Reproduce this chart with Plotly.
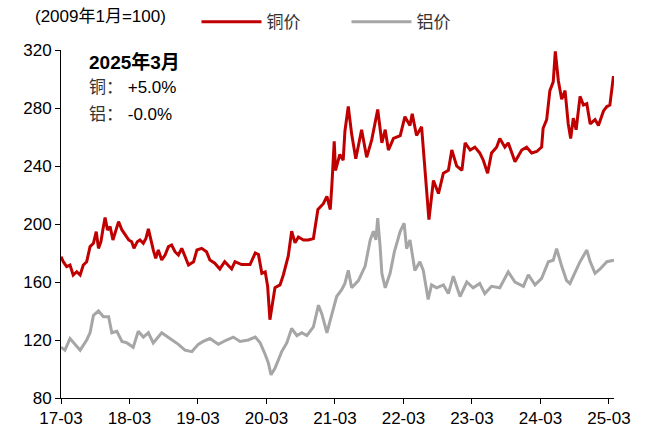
import plotly.graph_objects as go

# Copper price index (2009-01 = 100)
cu_dates = [
    "2017-03-01", "2017-03-13", "2017-03-31", "2017-04-18", "2017-05-05", "2017-05-24",
    "2017-06-11", "2017-06-28", "2017-07-16", "2017-08-03", "2017-08-21", "2017-09-05",
    "2017-09-17", "2017-09-30", "2017-10-10", "2017-10-22", "2017-11-04", "2017-11-18",
    "2017-12-03", "2017-12-15", "2018-01-02", "2018-01-20", "2018-02-07", "2018-02-25",
    "2018-03-13", "2018-03-25", "2018-04-12", "2018-04-26", "2018-05-14", "2018-05-28",
    "2018-06-10", "2018-06-22", "2018-07-06", "2018-07-19", "2018-08-02", "2018-08-20",
    "2018-09-07", "2018-09-25", "2018-10-12", "2018-10-30", "2018-11-17", "2018-12-05",
    "2018-12-22", "2019-01-10", "2019-02-06", "2019-02-24", "2019-03-21", "2019-04-16",
    "2019-05-04", "2019-05-30", "2019-06-26", "2019-07-22", "2019-08-28",
    "2019-09-15", "2019-10-20", "2019-12-04", "2020-01-01", "2020-01-18", "2020-02-05",
    "2020-02-23", "2020-03-07", "2020-03-19", "2020-04-15", "2020-05-12", "2020-05-30",
    "2020-06-25", "2020-07-13", "2020-07-31", "2020-08-18", "2020-09-14", "2020-10-10",
    "2020-11-06", "2020-11-30", "2020-12-29", "2021-01-17", "2021-02-04", "2021-02-13",
    "2021-02-25", "2021-03-04", "2021-03-27", "2021-04-14", "2021-04-23", "2021-05-11",
    "2021-05-29", "2021-06-20", "2021-07-21", "2021-08-17", "2021-09-13", "2021-10-15",
    "2021-11-06", "2021-11-24", "2021-12-11", "2022-01-07", "2022-02-12", "2022-03-09",
    "2022-04-05", "2022-04-17", "2022-05-10", "2022-06-06", "2022-06-24", "2022-07-15",
    "2022-08-08", "2022-09-04", "2022-09-30", "2022-10-27", "2022-11-14", "2022-12-10",
    "2023-01-07", "2023-01-24", "2023-02-20", "2023-03-17", "2023-04-12", "2023-05-01",
    "2023-05-24", "2023-06-14", "2023-07-11", "2023-07-28", "2023-08-24", "2023-09-11",
    "2023-10-17", "2023-11-22", "2023-12-18", "2024-01-14", "2024-02-10", "2024-03-07",
    "2024-03-15", "2024-04-03", "2024-04-20", "2024-05-08", "2024-05-19", "2024-06-04",
    "2024-06-22", "2024-07-10", "2024-07-27", "2024-08-09", "2024-08-23", "2024-09-07",
    "2024-09-28", "2024-10-16", "2024-11-03", "2024-11-21", "2024-12-17", "2025-01-04",
    "2025-01-31", "2025-02-18", "2025-03-06", "2025-03-15", "2025-03-25", "2025-03-28",
]
cu_values = [
    177.5, 174, 170.6, 171.7, 164.8, 167.1,
    164.8, 171.7, 174, 184.4, 186.7, 194.7,
    183.2, 187.8, 195.9, 204.4, 195.9, 198.2,
    189, 194.7, 201.6, 195.9, 192.4, 189,
    187.8, 183.2, 187.8, 189, 186.7, 190.1,
    196.6, 189, 182.1, 176.3, 182.1, 175.2,
    178.6, 184.4, 185.5, 180.9, 178.6, 183.2,
    177.5, 171.7, 174, 182.1, 183.2, 180.9,
    175.2, 173, 169, 174, 169,
    174, 172, 172, 180, 179, 166,
    167, 157, 134, 156, 158, 165,
    178, 195, 187, 191, 189, 189,
    190, 210, 214, 219, 210, 228,
    257, 237, 248, 244, 264, 281,
    262, 245, 265, 246, 258, 279,
    256, 265, 251, 259, 261, 274,
    268, 276, 261, 267, 237, 203,
    230, 221, 235, 237, 251, 240,
    237, 256, 251, 253, 249, 244,
    235, 249, 253, 259, 253, 256,
    243, 251, 253, 249, 250, 253,
    266, 272, 292, 298, 319, 299,
    286, 292, 269, 259, 273, 265,
    288, 282, 283, 269, 272, 268,
    278, 281, 282, 291, 302, 297,
]

# Aluminium price index (2009-01 = 100)
al_dates = [
    "2017-03-01", "2017-03-22", "2017-04-18", "2017-05-15", "2017-06-11", "2017-07-16",
    "2017-08-03", "2017-08-21", "2017-09-17", "2017-10-13", "2017-11-10", "2017-11-27",
    "2017-12-24", "2018-01-20", "2018-02-16", "2018-03-21", "2018-04-17", "2018-05-14",
    "2018-06-10", "2018-07-06", "2018-08-20", "2018-10-03", "2018-11-17", "2018-12-22",
    "2019-01-28", "2019-03-03", "2019-03-29", "2019-05-04", "2019-06-18", "2019-08-01",
    "2019-09-06", "2019-10-12", "2019-11-25", "2020-01-01", "2020-01-27", "2020-02-23",
    "2020-03-11", "2020-03-25", "2020-04-15", "2020-05-21", "2020-06-17", "2020-07-13",
    "2020-08-10", "2020-09-05", "2020-10-02", "2020-11-06", "2020-12-03", "2020-12-21",
    "2021-01-17", "2021-02-13", "2021-03-10", "2021-04-05", "2021-04-23", "2021-05-11",
    "2021-05-29", "2021-07-04", "2021-08-09", "2021-09-05", "2021-09-22", "2021-10-05",
    "2021-10-15", "2021-10-28", "2021-11-06", "2021-11-24", "2021-12-20", "2022-01-12",
    "2022-02-12", "2022-03-05", "2022-03-18", "2022-04-05", "2022-05-01", "2022-05-28",
    "2022-06-15", "2022-07-11", "2022-07-29", "2022-08-25", "2022-09-30", "2022-10-27",
    "2022-11-22", "2022-12-28", "2023-02-02", "2023-03-08", "2023-04-12", "2023-05-09",
    "2023-06-14", "2023-07-28", "2023-09-11", "2023-10-17", "2023-12-01", "2023-12-27",
    "2024-02-01", "2024-03-07", "2024-04-12", "2024-05-08", "2024-05-26", "2024-06-22",
    "2024-07-18", "2024-08-05", "2024-09-01", "2024-09-28", "2024-11-03", "2024-11-21",
    "2024-12-17", "2025-01-13", "2025-02-18", "2025-03-28",
]
al_values = [
    115, 113, 121, 117, 113, 120,
    125, 137, 140, 136, 136, 125,
    126, 119, 118, 115, 126, 122,
    125, 118, 125, 121, 117, 113,
    112, 117, 119, 121, 117, 120,
    122, 119, 120, 122, 118, 110,
    104, 96, 100.5, 112, 118, 128,
    123, 125, 123, 129, 144, 138,
    125, 138, 150, 154.5, 159, 168,
    156, 161, 171, 189, 195, 189,
    204, 184, 166, 156, 166, 181,
    195, 200.5, 183, 189, 168, 174,
    168, 148, 158, 156, 158, 152,
    164, 150, 160, 156, 159, 152,
    157, 156, 167, 160, 157, 165,
    158, 162.5, 174, 175, 183, 171,
    161, 159, 166, 174, 182, 174,
    166, 169, 174, 175,
]

tick_dates = ["2017-03-01", "2018-03-01", "2019-03-01", "2020-03-01", "2021-03-01",
              "2022-03-01", "2023-03-01", "2024-03-01", "2025-03-01"]
tick_labels = ["17-03", "18-03", "19-03", "20-03", "21-03", "22-03", "23-03", "24-03", "25-03"]

FONT = "Liberation Sans, Arial, Noto Sans CJK SC, sans-serif"
CJK = "Noto Sans CJK SC, Liberation Sans, sans-serif"

fig = go.Figure()
fig.add_trace(go.Scatter(x=cu_dates, y=cu_values, mode="lines", name="铜价",
                         line=dict(color="#C00000", width=3)))
fig.add_trace(go.Scatter(x=al_dates, y=al_values, mode="lines", name="铝价",
                         line=dict(color="#A6A6A6", width=3)))

fig.update_layout(
    width=651, height=434,
    margin=dict(l=61, r=37, t=50, b=36, autoexpand=False),
    paper_bgcolor="white", plot_bgcolor="white",
    font=dict(family=FONT, size=17, color="#000000"),
    showlegend=True,
    legend=dict(orientation="h", x=0.245, y=1.08, xanchor="left", yanchor="middle",
                font=dict(family=CJK, size=17, color="#333333"),
                entrywidth=75, entrywidthmode="pixels", itemwidth=60,
                bgcolor="rgba(0,0,0,0)"),
    xaxis=dict(type="date", range=["2017-03-01", "2025-03-28"],
               tickvals=tick_dates, ticktext=tick_labels,
               showgrid=False, zeroline=False, automargin=False,
               showline=True, linecolor="#000000", linewidth=1,
               ticks="outside", ticklen=5, tickcolor="#000000",
               tickfont=dict(size=17)),
    yaxis=dict(range=[80, 320], dtick=40, tick0=80,
               showgrid=False, zeroline=False, automargin=False,
               showline=True, linecolor="#000000", linewidth=1,
               ticks="outside", ticklen=5, tickcolor="#000000",
               tickfont=dict(size=17)),
)

fig.add_annotation(xref="paper", yref="paper", x=-0.05, y=1.095,
                   xanchor="left", yanchor="middle", showarrow=False,
                   text="(2009年1月=100)", font=dict(family=FONT, size=17, color="#000000"))
fig.add_annotation(xref="paper", yref="paper", x=0.047, y=0.966,
                   xanchor="left", yanchor="middle", showarrow=False,
                   text="<b>2025年3月</b>", font=dict(family=FONT, size=19, color="#000000"))
fig.add_annotation(xref="paper", yref="paper", x=0.047, y=0.893,
                   xanchor="left", yanchor="middle", showarrow=False,
                   text="铜：<span style='color:#000000'> +5.0%</span>",
                   font=dict(family=FONT, size=17, color="#333333"))
fig.add_annotation(xref="paper", yref="paper", x=0.047, y=0.815,
                   xanchor="left", yanchor="middle", showarrow=False,
                   text="铝：<span style='color:#000000'> -0.0%</span>",
                   font=dict(family=FONT, size=17, color="#333333"))

fig.write_html("out.html")
